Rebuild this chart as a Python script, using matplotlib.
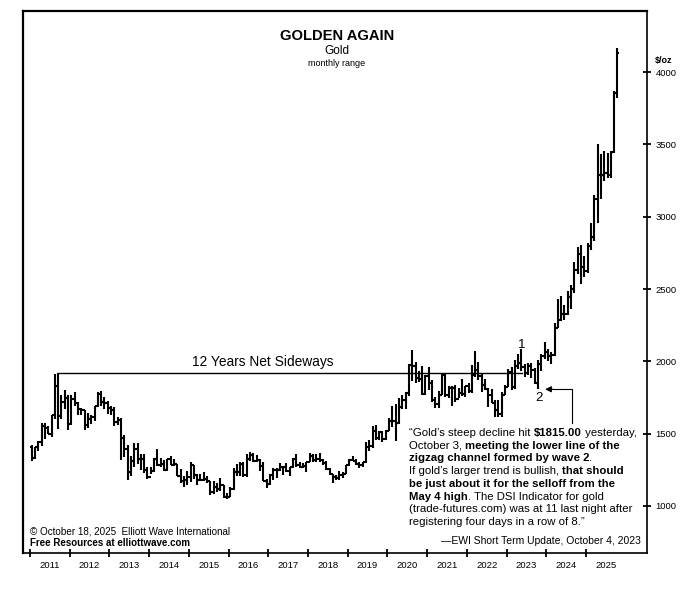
import matplotlib
matplotlib.use('Agg')
import matplotlib.pyplot as plt
import numpy as np

plt.rcParams['font.family'] = ['Liberation Sans', 'DejaVu Sans']

# monthly gold range, Jan 2011 .. Oct 2025
start_year = 2011
first_open = 1405
highs = [
    1424, 1411, 1447, 1575, 1577, 1552, 1632, 1913, 1921, 1764, 1804, 1764,
    1764, 1791, 1720, 1676, 1665, 1642, 1630, 1693, 1790, 1796, 1754, 1727,
    1694, 1681, 1616, 1605, 1488, 1423, 1348, 1434, 1434, 1361, 1362, 1267,
    1270, 1332, 1392, 1331, 1315, 1326, 1345, 1323, 1287, 1255, 1207, 1239,
    1307, 1284, 1220, 1224, 1232, 1205, 1170, 1170, 1157, 1191, 1142, 1088,
    1128, 1263, 1287, 1305, 1304, 1362, 1375, 1367, 1352, 1325, 1306, 1188,
    1220, 1264, 1262, 1296, 1270, 1296, 1270, 1331, 1357, 1306, 1300, 1306,
    1366, 1361, 1356, 1365, 1326, 1309, 1266, 1218, 1214, 1243, 1237, 1284,
    1326, 1347, 1324, 1304, 1305, 1439, 1453, 1555, 1557, 1518, 1516, 1525,
    1611, 1689, 1704, 1747, 1765, 1789, 1981, 2075, 1992, 1933, 1966, 1907,
    1959, 1872, 1755, 1798, 1913, 1917, 1832, 1831, 1834, 1814, 1877, 1831,
    1853, 1974, 2070, 1998, 1910, 1880, 1814, 1807, 1735, 1730, 1786, 1833,
    1949, 1959, 2009, 2049, 2082, 1983, 1987, 1987, 1953, 2009, 2052, 2135,
    2088, 2065, 2265, 2431, 2450, 2387, 2483, 2531, 2685, 2790, 2801, 2726,
    2817, 2956, 3148, 3500, 3435, 3452, 3439, 3453, 3872, 4165,
]
lows = [
    1309, 1324, 1381, 1418, 1462, 1496, 1478, 1603, 1535, 1598, 1670, 1523,
    1562, 1690, 1627, 1628, 1527, 1540, 1565, 1587, 1685, 1694, 1672, 1636,
    1626, 1555, 1562, 1321, 1338, 1180, 1207, 1271, 1292, 1251, 1227, 1185,
    1219, 1238, 1278, 1268, 1240, 1240, 1281, 1273, 1206, 1160, 1131, 1142,
    1167, 1190, 1142, 1170, 1170, 1162, 1077, 1080, 1098, 1106, 1052, 1046,
    1062, 1110, 1208, 1208, 1200, 1200, 1310, 1302, 1304, 1241, 1172, 1122,
    1146, 1180, 1194, 1243, 1214, 1236, 1205, 1263, 1271, 1260, 1264, 1236,
    1302, 1307, 1303, 1302, 1282, 1250, 1211, 1160, 1180, 1182, 1196, 1221,
    1276, 1311, 1281, 1266, 1267, 1300, 1381, 1401, 1459, 1459, 1445, 1454,
    1517, 1548, 1451, 1567, 1670, 1671, 1757, 1863, 1848, 1860, 1765, 1765,
    1803, 1717, 1677, 1678, 1766, 1751, 1750, 1688, 1722, 1746, 1758, 1753,
    1780, 1780, 1890, 1872, 1787, 1805, 1681, 1709, 1615, 1618, 1617, 1765,
    1823, 1804, 1809, 1950, 1932, 1893, 1903, 1884, 1846, 1810, 1931, 2016,
    2002, 1984, 2039, 2228, 2277, 2286, 2318, 2364, 2471, 2603, 2536, 2583,
    2614, 2772, 2833, 2957, 3121, 3245, 3268, 3268, 3437, 3820,
]
closes = [
    1332, 1409, 1439, 1556, 1536, 1500, 1628, 1828, 1620, 1722, 1746, 1564,
    1740, 1711, 1669, 1664, 1561, 1598, 1615, 1690, 1773, 1719, 1714, 1676,
    1662, 1579, 1597, 1472, 1393, 1234, 1313, 1396, 1327, 1323, 1250, 1202,
    1244, 1326, 1284, 1291, 1250, 1322, 1283, 1287, 1210, 1171, 1182, 1199,
    1283, 1213, 1183, 1183, 1190, 1172, 1095, 1133, 1115, 1142, 1065, 1061,
    1118, 1238, 1233, 1293, 1215, 1322, 1351, 1309, 1316, 1273, 1173, 1151,
    1211, 1249, 1249, 1268, 1268, 1242, 1269, 1322, 1280, 1271, 1275, 1303,
    1345, 1318, 1325, 1315, 1298, 1253, 1224, 1201, 1192, 1215, 1222, 1282,
    1321, 1313, 1292, 1284, 1305, 1409, 1413, 1520, 1472, 1513, 1464, 1517,
    1587, 1585, 1577, 1687, 1730, 1781, 1975, 1967, 1886, 1879, 1777, 1898,
    1847, 1734, 1708, 1769, 1903, 1770, 1814, 1814, 1743, 1783, 1774, 1829,
    1797, 1909, 1937, 1897, 1837, 1807, 1766, 1711, 1661, 1633, 1768, 1824,
    1928, 1826, 1969, 1990, 1962, 1919, 1965, 1940, 1849, 1983, 2036, 2063,
    2039, 2044, 2229, 2286, 2327, 2326, 2447, 2503, 2634, 2744, 2650, 2624,
    2798, 2858, 3124, 3288, 3289, 3303, 3290, 3448, 3858, 4130,
]
year_labels = [str(y) for y in range(2011, 2026)]
price_ticks = [1000, 1500, 2000, 2500, 3000, 3500, 4000]

sideways_level = 1920
sideways_start, sideways_end = 2011.70, 2023.39
wave_labels = [("1", 2023.37, 2110), ("2", 2023.82, 1745)]
arrow_tip = (2023.97, 1807)
arrow_elbow = (2024.65, 1574)

quote_lines = [
    [("\u201cGold\u2019s steep decline hit ", False), (r"\$1815.00", True), (" yesterday,", False)],
    [("October 3, ", False), ("meeting the lower line of the", True)],
    [("zigzag channel formed by wave 2", True), (".", False)],
    [("If gold\u2019s larger trend is bullish, ", False), ("that should", True)],
    [("be just about it for the selloff from the", True)],
    [("May 4 high", True), (". The DSI Indicator for gold", False)],
    [("(trade-futures.com) was at 11 last night after", False)],
    [("registering four days in a row of 8.\u201d", False)],
]

W, H = 696, 594
fig = plt.figure(figsize=(W / 100, H / 100), dpi=100)
ax = fig.add_axes([23 / W, 1 - 553 / H, 624 / W, 542 / H])

n = len(closes)
x = start_year + (np.arange(n) + 0.5) / 12
opens = [first_open] + closes[:-1]
half = 0.05
ax.vlines(x, lows, highs, color='black', linewidth=1.5)
ax.hlines(opens, x - half, x, color='black', linewidth=1.5)
ax.hlines(closes, x, x + half, color='black', linewidth=1.5)

ax.set_xlim(2010.824, 2026.536)
ax.set_ylim(675, 4422)

# x axis: year boundaries as ticks, labels mid-year
ax.set_xticks(range(2011, 2026))
ax.set_xticklabels([])
ax.set_xticks([y + 0.5 for y in range(2011, 2026)], minor=True)
ax.set_xticklabels(year_labels, minor=True, fontsize=6.8)
ax.tick_params(axis='x', which='major', direction='inout', length=6, width=1.3)
ax.tick_params(axis='x', which='minor', length=0, pad=5.5)

ax.yaxis.tick_right()
ax.set_yticks(price_ticks)
ax.set_yticklabels([str(v) for v in price_ticks], fontsize=6.8)
ax.tick_params(axis='y', direction='inout', length=6, width=1.3, pad=3)

for side in ['left', 'top']:
    ax.spines[side].set_linewidth(1.6)
for side in ['right', 'bottom']:
    ax.spines[side].set_linewidth(1.2)

# 12 years sideways line
ax.plot([sideways_start, sideways_end], [sideways_level, sideways_level],
        color='black', linewidth=1.0)
ax.text(2016.87, sideways_level + 25, "12 Years Net Sideways", ha='center',
        va='bottom', fontsize=9.9)

for lab, lx, ly in wave_labels:
    ax.text(lx, ly, lab, ha='center', va='center', fontsize=9.5)

ax.plot([arrow_elbow[0], arrow_elbow[0], arrow_tip[0] + 0.15],
        [arrow_elbow[1], arrow_tip[1], arrow_tip[1]], color='black', linewidth=0.8)
ax.annotate("", xy=arrow_tip, xytext=(arrow_tip[0] + 0.2, arrow_tip[1]),
            arrowprops=dict(arrowstyle='-|>', color='black', linewidth=0.8,
                            mutation_scale=9, shrinkA=0, shrinkB=0))

# titles
fig.text(337 / W, 1 - 36 / H, "GOLDEN AGAIN", ha='center', va='center',
         fontsize=10.6, fontweight='bold')
fig.text(337 / W, 1 - 51 / H, "Gold", ha='center', va='center', fontsize=8.5)
fig.text(337 / W, 1 - 64 / H, "monthly range", ha='center', va='center', fontsize=6.5)
fig.text(655 / W, 1 - 60 / H, r"\$/oz", ha='left', va='center', fontsize=6.5,
         fontweight='bold')

fig.text(30 / W, 1 - 531 / H, "\u00a9 October 18, 2025  Elliott Wave International",
         ha='left', va='center', fontsize=7.1)
fig.text(30 / W, 1 - 543 / H, "Free Resources at elliottwave.com",
         ha='left', va='center', fontsize=7.0, fontweight='bold')
fig.text(641 / W, 1 - 541 / H, "\u2014EWI Short Term Update, October 4, 2023",
         ha='right', va='center', fontsize=7.5)

# quote with mixed weights
renderer = fig.canvas.get_renderer()
qsize = 8.2


def run_width(s, bold):
    w = 'bold' if bold else 'normal'
    a = fig.text(0, 0, "|" + s + "|", fontsize=qsize, fontweight=w)
    b = fig.text(0, 0, "||", fontsize=qsize, fontweight=w)
    width = a.get_window_extent(renderer).width - b.get_window_extent(renderer).width
    a.remove()
    b.remove()
    return width


for i, line in enumerate(quote_lines):
    px = 409
    py = 433 + i * 12.7
    for s, bold in line:
        fig.text(px / W, 1 - py / H, s, ha='left', va='center', fontsize=qsize,
                 fontweight='bold' if bold else 'normal')
        px += run_width(s, bold)

fig.savefig('out.png', dpi=100)
